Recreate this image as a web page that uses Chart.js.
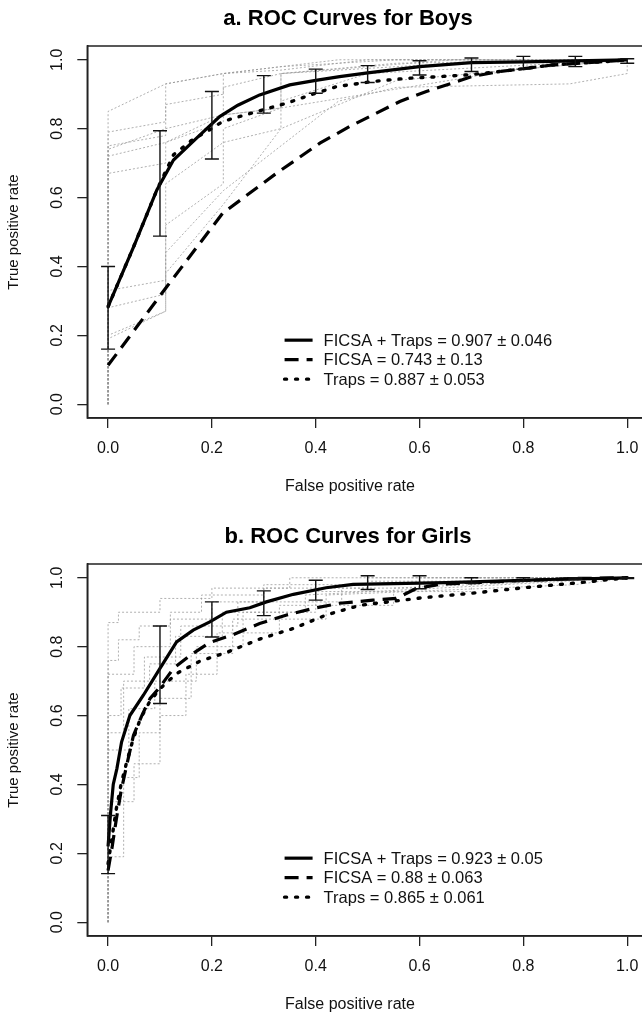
<!DOCTYPE html>
<html>
<head>
<meta charset="utf-8">
<script src="https://cdn.jsdelivr.net/npm/chart.js@4.4.1/dist/chart.umd.min.js"></script>
<style>
    html, body {
        margin: 0;
        padding: 0;
        background: #ffffff;
        width: 642px;
        height: 1016px;
        overflow: hidden;
    }

    .panel {
        position: absolute;
        left: 0;
        width: 660px;
        height: 518px;
    }
</style>
</head>
<body>

<div class="panel" style="top: 0px;">
    <canvas id="boysChart" width="660" height="518"></canvas>
</div>

<div class="panel" style="top: 518px;">
    <canvas id="girlsChart" width="660" height="518"></canvas>
</div>

<script>

const FONT =
    "'Liberation Sans', Arial, sans-serif";

const tickValues = [0, 0.2, 0.4, 0.6, 0.8, 1.0];

const seriesNames = ["FICSA + Traps", "FICSA", "Traps"];

const errorX = [0, 0.1, 0.2, 0.3, 0.4, 0.5, 0.6, 0.7, 0.8, 0.9, 1.0];

const xAxisTitle = "False positive rate";
const yAxisTitle = "True positive rate";

// ---- Boys ----

const boysTitle = "a. ROC Curves for Boys";

const boysAuc = ["0.907 \u00b1 0.046", "0.743 \u00b1 0.13", "0.887 \u00b1 0.053"];

const boysBothX = [0, 0.05, 0.094, 0.126, 0.17, 0.215, 0.25, 0.292, 0.35, 0.4, 0.446, 0.5, 0.6, 0.7, 0.8, 0.9, 1.0];
const boysBothY = [0.283, 0.46, 0.622, 0.709, 0.772, 0.835, 0.868, 0.898, 0.927, 0.94, 0.951, 0.962, 0.98, 0.992, 0.994, 0.997, 1.0];

const boysFicsaX = [0, 0.113, 0.221, 0.324, 0.408, 0.465, 0.517, 0.562, 0.613, 0.664, 0.70, 0.754, 0.805, 0.856, 0.96, 1.0];
const boysFicsaY = [0.113, 0.341, 0.555, 0.67, 0.758, 0.806, 0.845, 0.879, 0.908, 0.933, 0.951, 0.966, 0.975, 0.985, 0.995, 1.0];

const boysTrapsX = [0, 0.05, 0.094, 0.126, 0.16, 0.196, 0.221, 0.292, 0.344, 0.394, 0.44, 0.51, 0.574, 0.638, 0.69, 0.72, 0.754, 0.805, 0.856, 0.96, 1.0];
const boysTrapsY = [0.283, 0.46, 0.622, 0.724, 0.765, 0.797, 0.821, 0.852, 0.874, 0.90, 0.922, 0.937, 0.946, 0.951, 0.956, 0.96, 0.966, 0.975, 0.985, 0.995, 1.0];

const boysErrLow = [0.16, 0.488, 0.712, 0.845, 0.903, 0.934, 0.956, 0.966, 0.973, 0.98, 0.99];
const boysErrHigh = [0.40, 0.794, 0.908, 0.954, 0.973, 0.983, 0.997, 1.005, 1.01, 1.01, 1.003];

const boysFoldX = [
    [0, 0, 0.111, 0.222, 0.333, 0.5, 1],
    [0, 0, 0.111, 0.111, 0.222, 0.333, 0.556, 1],
    [0, 0, 0.111, 0.111, 0.222, 0.222, 0.444, 1],
    [0, 0, 0.111, 0.222, 0.222, 0.333, 0.667, 1],
    [0, 0, 0.111, 0.111, 0.222, 0.333, 0.333, 0.556, 1],
    [0, 0, 0.111, 0.111, 0.222, 0.333, 0.333, 0.5, 1],
    [0, 0, 0.111, 0.111, 0.222, 0.222, 0.333, 0.778, 1],
    [0, 0, 0.111, 0.111, 0.222, 0.444, 0.556, 0.889, 1, 1],
    [0, 0, 0.111, 0.111, 0.222, 0.333, 0.556, 1],
    [0, 0, 0.111, 0.222, 0.333, 0.333, 0.667, 1]
];
const boysFoldY = [
    [0, 0.85, 0.93, 0.96, 0.97, 1, 1],
    [0, 0.79, 0.82, 0.93, 0.96, 0.98, 1, 1],
    [0, 0.75, 0.78, 0.87, 0.90, 0.96, 1, 1],
    [0, 0.72, 0.76, 0.82, 0.92, 0.96, 1, 1],
    [0, 0.67, 0.70, 0.76, 0.84, 0.86, 0.96, 0.99, 1],
    [0, 0.33, 0.36, 0.64, 0.76, 0.80, 0.88, 0.96, 1],
    [0, 0.28, 0.32, 0.52, 0.64, 0.80, 0.86, 0.97, 1],
    [0, 0.19, 0.27, 0.44, 0.62, 0.88, 0.92, 0.93, 0.96, 1],
    [0, 0.20, 0.27, 0.38, 0.58, 0.80, 0.94, 1],
    [0, 0.74, 0.80, 0.84, 0.86, 0.96, 0.99, 1]
];

// ---- Girls ----

const girlsTitle = "b. ROC Curves for Girls";

const girlsAuc = ["0.923 \u00b1 0.05", "0.88 \u00b1 0.063", "0.865 \u00b1 0.061"];

const girlsBothX = [0, 0.005, 0.01, 0.017, 0.026, 0.042, 0.068, 0.1, 0.132, 0.164, 0.196, 0.228, 0.273, 0.305, 0.357, 0.42, 0.472, 0.55, 0.65, 0.75, 0.85, 1.0];
const girlsBothY = [0.22, 0.32, 0.40, 0.446, 0.523, 0.60, 0.659, 0.737, 0.814, 0.848, 0.872, 0.90, 0.913, 0.93, 0.952, 0.971, 0.981, 0.983, 0.986, 0.99, 0.995, 1.0];

const girlsFicsaX = [0, 0.008, 0.016, 0.025, 0.035, 0.049, 0.065, 0.081, 0.1, 0.126, 0.158, 0.196, 0.241, 0.292, 0.344, 0.395, 0.446, 0.51, 0.555, 0.594, 0.638, 0.735, 0.9, 1.0];
const girlsFicsaY = [0.15, 0.22, 0.30, 0.38, 0.45, 0.543, 0.60, 0.65, 0.683, 0.737, 0.775, 0.812, 0.835, 0.867, 0.892, 0.911, 0.926, 0.935, 0.94, 0.969, 0.981, 0.988, 0.998, 1.0];

const girlsTrapsX = [0, 0.008, 0.016, 0.025, 0.035, 0.048, 0.062, 0.08, 0.1, 0.132, 0.177, 0.228, 0.292, 0.357, 0.42, 0.485, 0.55, 0.606, 0.70, 0.80, 0.895, 1.0];
const girlsTrapsY = [0.17, 0.25, 0.33, 0.40, 0.46, 0.53, 0.59, 0.64, 0.678, 0.722, 0.758, 0.783, 0.822, 0.853, 0.892, 0.92, 0.932, 0.942, 0.955, 0.971, 0.984, 1.0];

const girlsErrLow = [0.141, 0.635, 0.828, 0.89, 0.935, 0.966, 0.968, 0.984, 0.99, 0.995, 0.998];
const girlsErrHigh = [0.31, 0.86, 0.93, 0.962, 0.993, 1.006, 1.006, 1.0, 1.0, 1.0, 1.0];

const girlsFoldX = [
    [0, 0, 0.02, 0.02, 0.1, 0.1, 0.2, 0.2, 0.35, 0.35, 1],
    [0, 0, 0.05, 0.05, 0.12, 0.12, 0.2, 0.2, 0.3, 0.3, 0.5, 0.5, 1],
    [0, 0, 0.025, 0.025, 0.07, 0.07, 0.14, 0.14, 0.25, 0.25, 0.45, 0.45, 0.6, 0.6, 1],
    [0, 0, 0.04, 0.04, 0.09, 0.09, 0.17, 0.17, 0.26, 0.26, 0.4, 0.4, 0.7, 0.7, 1],
    [0, 0, 0.03, 0.03, 0.06, 0.06, 0.1, 0.1, 0.16, 0.16, 0.24, 0.24, 0.42, 0.42, 0.9, 1],
    [0, 0, 0.05, 0.05, 0.1, 0.1, 0.15, 0.15, 0.21, 0.21, 0.33, 0.33, 0.55, 0.55, 1],
    [0, 0, 0.02, 0.02, 0.06, 0.06, 0.12, 0.12, 0.18, 0.18, 0.3, 0.3, 0.5, 0.5, 0.8, 0.8, 1],
    [0, 0, 0.03, 0.03, 0.08, 0.08, 0.13, 0.13, 0.22, 0.22, 0.38, 0.38, 0.7, 1]
];
const girlsFoldY = [
    [0, 0.87, 0.87, 0.9, 0.9, 0.94, 0.94, 0.97, 0.97, 1, 1],
    [0, 0.72, 0.72, 0.8, 0.8, 0.88, 0.88, 0.93, 0.93, 0.97, 0.97, 1, 1],
    [0, 0.6, 0.6, 0.68, 0.68, 0.77, 0.77, 0.86, 0.86, 0.93, 0.93, 0.97, 0.97, 1, 1],
    [0, 0.5, 0.5, 0.62, 0.62, 0.7, 0.7, 0.8, 0.8, 0.9, 0.9, 0.96, 0.96, 1, 1],
    [0, 0.19, 0.19, 0.42, 0.42, 0.55, 0.55, 0.65, 0.65, 0.78, 0.78, 0.88, 0.88, 0.95, 0.98, 1],
    [0, 0.35, 0.35, 0.46, 0.46, 0.6, 0.6, 0.72, 0.72, 0.84, 0.84, 0.92, 0.92, 0.97, 1],
    [0, 0.76, 0.76, 0.82, 0.82, 0.86, 0.86, 0.9, 0.9, 0.95, 0.95, 0.98, 0.98, 0.99, 0.99, 1, 1],
    [0, 0.55, 0.55, 0.7, 0.7, 0.75, 0.75, 0.83, 0.83, 0.9, 0.9, 0.95, 0.975, 1]
];

// line looks for the three summary curves
const lineStyles = [
    { width: 3.2, dash: [], cap: "butt" },
    { width: 3.2, dash: [14, 8], cap: "butt" },
    { width: 3.4, dash: [2, 9], cap: "round" }
];

function toPoints(xs, ys) {
    return xs.map(function(v, i) {
        return { x: v, y: ys[i] };
    });
}

function makeRocChart(canvasId, title, curvesX, curvesY, aucText, foldX, foldY, errLow, errHigh) {

    const datasets = [];

    curvesX.forEach(function(xs, i) {
        datasets.push({
            label: seriesNames[i] + " = " + aucText[i],
            data: toPoints(xs, curvesY[i]),
            showLine: true,
            borderColor: "#000000",
            borderWidth: lineStyles[i].width,
            borderDash: lineStyles[i].dash,
            borderCapStyle: lineStyles[i].cap,
            pointRadius: 0,
            tension: 0
        });
    });

    foldX.forEach(function(xs, i) {
        datasets.push({
            label: "fold",
            data: toPoints(xs, foldY[i]),
            showLine: true,
            borderColor: "rgba(150,150,150,0.75)",
            borderWidth: 1,
            borderDash: [2, 2],
            pointRadius: 0,
            tension: 0
        });
    });

    const decor = {
        id: "rocDecor",
        afterDatasetsDraw: function(chart) {

            const ctx = chart.ctx;
            const xs = chart.scales.x;
            const ys = chart.scales.y;
            const area = chart.chartArea;

            ctx.save();

            // error bars
            ctx.strokeStyle = "#111111";
            ctx.lineWidth = 1.4;
            ctx.setLineDash([]);
            errorX.forEach(function(v, i) {
                const px = xs.getPixelForValue(v);
                const lo = ys.getPixelForValue(errLow[i]);
                const hi = ys.getPixelForValue(errHigh[i]);
                ctx.beginPath();
                ctx.moveTo(px, lo);
                ctx.lineTo(px, hi);
                ctx.moveTo(px - 7, lo);
                ctx.lineTo(px + 7, lo);
                ctx.moveTo(px - 7, hi);
                ctx.lineTo(px + 7, hi);
                ctx.stroke();
            });

            // frame around the plot
            ctx.lineWidth = 1.5;
            ctx.strokeStyle = "#222222";
            ctx.strokeRect(area.left, area.top, area.right - area.left, area.bottom - area.top);

            // title and x axis title
            ctx.fillStyle = "#000000";
            ctx.font = "bold 22px " + FONT;
            ctx.textAlign = "center";
            ctx.textBaseline = "middle";
            ctx.fillText(title, 348, 19);

            ctx.fillStyle = "#111111";
            ctx.font = "16px " + FONT;
            ctx.fillText(xAxisTitle, 350, 487);

            // legend
            const lx = xs.getPixelForValue(0.34);
            const ly = ys.getPixelForValue(0.186);
            ctx.font = "16.5px " + FONT;
            ctx.textAlign = "left";
            for (let i = 0; i < 3; i++) {
                const ds = chart.data.datasets[i];
                const y = ly + i * 19.5;
                ctx.beginPath();
                ctx.strokeStyle = "#000000";
                ctx.lineWidth = ds.borderWidth;
                ctx.lineCap = ds.borderCapStyle;
                ctx.setLineDash(ds.borderDash);
                ctx.moveTo(lx, y);
                ctx.lineTo(lx + 28, y);
                ctx.stroke();
                ctx.setLineDash([]);
                ctx.fillText(ds.label, lx + 39, y + 1);
            }

            ctx.restore();
        }
    };

    const axisTicks = function(scale) {
        scale.ticks = tickValues.map(function(v) {
            return { value: v };
        });
    };

    return new Chart(
        document.getElementById(canvasId),
        {
            type: "scatter",
            data: { datasets: datasets },
            plugins: [decor],
            options: {
                responsive: false,
                animation: false,
                devicePixelRatio: 1,
                layout: {
                    padding: { left: 0, right: 12, top: 46, bottom: 0 }
                },
                plugins: {
                    legend: { display: false },
                    tooltip: { enabled: false }
                },
                scales: {
                    x: {
                        type: "linear",
                        min: -0.04,
                        max: 1.04,
                        afterBuildTicks: axisTicks,
                        afterFit: function(scale) { scale.height = 100; },
                        grid: {
                            drawOnChartArea: false,
                            drawTicks: true,
                            tickLength: 10,
                            color: "#222222",
                            lineWidth: 1.3
                        },
                        border: { display: true, color: "#222222", width: 1.5 },
                        ticks: {
                            padding: 11,
                            color: "#111111",
                            font: { family: FONT, size: 16 },
                            callback: function(v) { return v.toFixed(1); }
                        }
                    },
                    y: {
                        type: "linear",
                        min: -0.04,
                        max: 1.04,
                        afterBuildTicks: axisTicks,
                        afterFit: function(scale) { scale.width = 87.3; },
                        grid: {
                            drawOnChartArea: false,
                            drawTicks: true,
                            tickLength: 10,
                            color: "#222222",
                            lineWidth: 1.3
                        },
                        border: { display: true, color: "#222222", width: 1.5 },
                        ticks: {
                            padding: 9,
                            minRotation: 90,
                            maxRotation: 90,
                            crossAlign: "center",
                            color: "#111111",
                            font: { family: FONT, size: 16 },
                            callback: function(v) { return v.toFixed(1); }
                        },
                        title: {
                            display: true,
                            text: yAxisTitle,
                            color: "#111111",
                            font: { family: FONT, size: 15 },
                            padding: { top: 5, bottom: 0 }
                        }
                    }
                }
            }
        }
    );
}

makeRocChart(
    "boysChart",
    boysTitle,
    [boysBothX, boysFicsaX, boysTrapsX],
    [boysBothY, boysFicsaY, boysTrapsY],
    boysAuc,
    boysFoldX,
    boysFoldY,
    boysErrLow,
    boysErrHigh
);

makeRocChart(
    "girlsChart",
    girlsTitle,
    [girlsBothX, girlsFicsaX, girlsTrapsX],
    [girlsBothY, girlsFicsaY, girlsTrapsY],
    girlsAuc,
    girlsFoldX,
    girlsFoldY,
    girlsErrLow,
    girlsErrHigh
);

</script>
</body>
</html>
